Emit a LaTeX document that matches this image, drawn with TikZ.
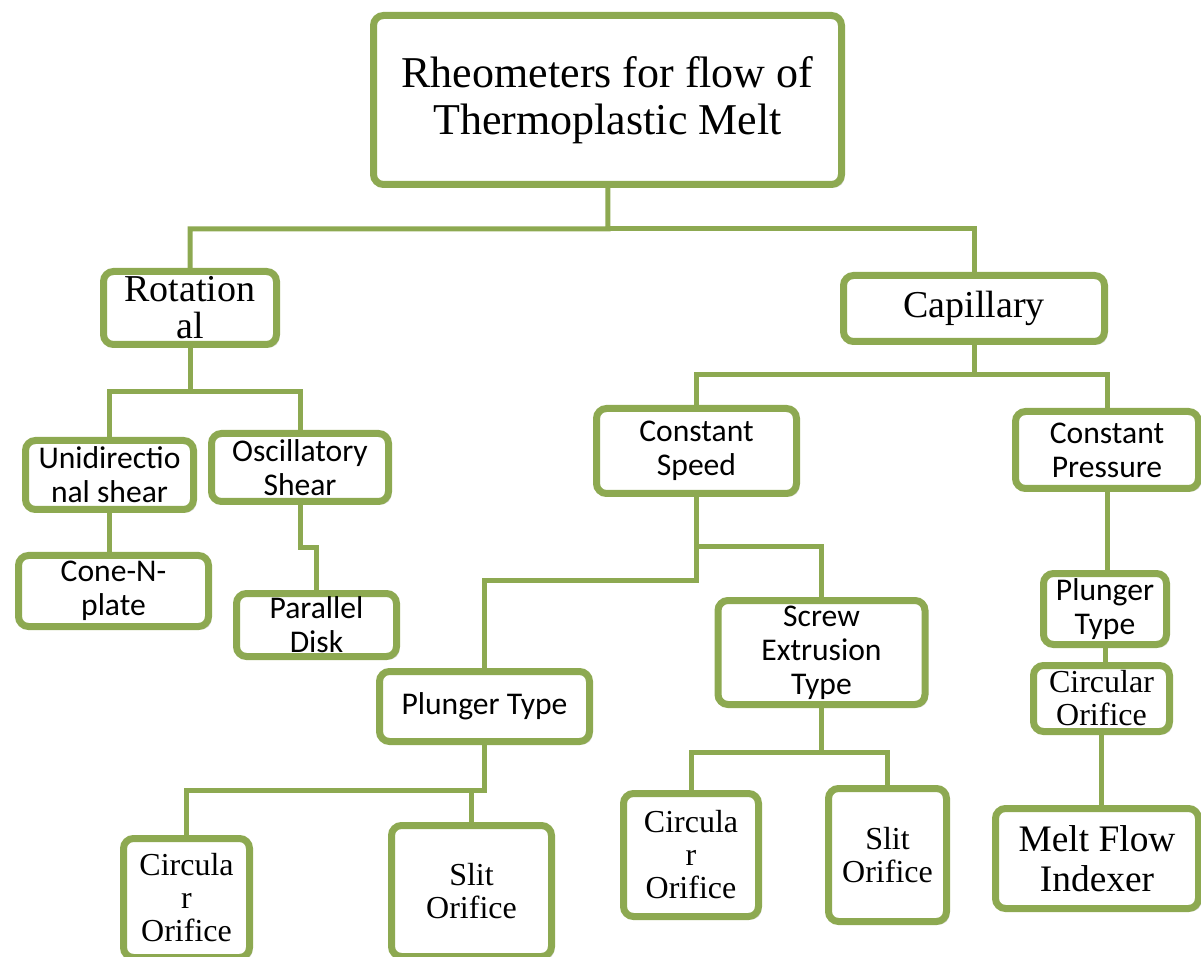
\documentclass[tikz,border=0pt]{standalone}
\usepackage{fontspec}
\setmainfont{Liberation Serif}
\newfontfamily\calibri{Carlito}
\usetikzlibrary{shadows}
\definecolor{leafgreen}{RGB}{141,169,81}
\tikzset{
  box/.style={draw=leafgreen,line width=3.5pt,rounded corners=5pt,fill=white,align=center,inner sep=0pt,
    drop shadow={shadow xshift=1.5pt,shadow yshift=-1.5pt,opacity=.25}},
  serifbox/.style={box,font=\fontsize{16}{16.5}\selectfont},
  sansbox/.style={box,font=\calibri\fontsize{15.8}{17}\selectfont},
  link/.style={draw=leafgreen,line width=2.5pt},
}
\begin{document}
\begin{tikzpicture}[x=0.5pt,y=-0.5pt]
    \useasboundingbox (0,0) rectangle (1201,957);
    \node[box,font=\fontsize{22}{23.5}\selectfont,minimum width=234pt,minimum height=84.5pt] (rheo) at (607.5,100) {Rheometers for flow of\\Thermoplastic Melt};
    \node[serifbox,font=\fontsize{19}{18.5}\selectfont,minimum width=86.5pt,minimum height=36.5pt] (rot) at (190,308) {Rotation\\al};
    \node[serifbox,font=\fontsize{19}{18.5}\selectfont,minimum width=130.5pt,minimum height=33pt] (cap) at (974,308.5) {Capillary};
    \node[sansbox,minimum width=84pt,minimum height=34.5pt] (uni) at (109.5,475) {Unidirectio\\nal shear};
    \node[sansbox,minimum width=88.5pt,minimum height=34pt] (osc) at (300,467.5) {Oscillatory\\Shear};
    \node[sansbox,minimum width=95pt,minimum height=35.5pt] (cone) at (113.5,591) {Cone-N-\\plate};
    \node[sansbox,minimum width=80pt,minimum height=31.5pt] (disk) at (316.5,625) {Parallel\\Disk};
    \node[sansbox,minimum width=100pt,minimum height=42.5pt] (cspeed) at (696.5,451) {Constant\\Speed};
    \node[sansbox,minimum width=91.5pt,minimum height=38.5pt] (cpress) at (1107,450) {Constant\\Pressure};
    \node[sansbox,minimum width=105pt,minimum height=35pt] (plungerm) at (484.5,706.5) {Plunger Type};
    \node[sansbox,minimum width=103.5pt,minimum height=52pt] (screw) at (821.5,652.5) {Screw\\Extrusion\\Type};
    \node[sansbox,minimum width=61.5pt,minimum height=35.5pt] (plungerr) at (1105,609) {Plunger\\Type};
    \node[serifbox,minimum width=68pt,minimum height=33pt] (circr) at (1101.5,698.5) {Circular\\Orifice};
    \node[serifbox,minimum width=63pt,minimum height=59.5pt] (circbl) at (186.5,898) {Circula\\r\\Orifice};
    \node[serifbox,minimum width=80pt,minimum height=65.5pt] (slitbl) at (471.5,891) {Slit\\Orifice};
    \node[serifbox,minimum width=67.5pt,minimum height=61.5pt] (circm) at (691,855) {Circula\\r\\Orifice};
    \node[serifbox,minimum width=59pt,minimum height=66.5pt] (slitr) at (887.5,855) {Slit\\Orifice};
    \node[serifbox,font=\fontsize{18.7}{20}\selectfont,minimum width=101.5pt,minimum height=50pt] (melt) at (1097,858.5) {Melt Flow\\Indexer};
    \coordinate (t) at (608,229);
    \draw[link] (rheo) -- (t) -| (rot);
    \draw[link] (t) -| (cap);
    \coordinate (r) at (190,392);
    \draw[link] (rot) -- (r) -| (uni);
    \draw[link] (r) -| (osc);
    \draw[link] (uni.south) -- (uni.south |- cone.north);
    \draw[link] (osc.south) -- ++(0,43) -| (disk);
    \coordinate (c) at (974,375);
    \draw[link] (cap) -- (c) -| (cspeed);
    \draw[link] (c) -| (cpress);
    \coordinate (s1) at (696.5,547);
    \coordinate (s2) at (696.5,580);
    \draw[link] (cspeed) -- (s2) -| (plungerm);
    \draw[link] (s1) -| (screw);
    \draw[link] (cpress.south) -- (cpress.south |- plungerr.north);
    \draw[link] (plungerr.south) -- (plungerr.south |- circr.north);
    \draw[link] (circr.south) -- (circr.south |- melt.north);
    \coordinate (p) at (484.5,790);
    \draw[link] (plungerm) -- (p) -| (circbl);
    \draw[link] (p) -| (slitbl);
    \coordinate (q) at (821.5,752);
    \draw[link] (screw) -- (q) -| (circm);
    \draw[link] (q) -| (slitr);
\end{tikzpicture}
\end{document}
